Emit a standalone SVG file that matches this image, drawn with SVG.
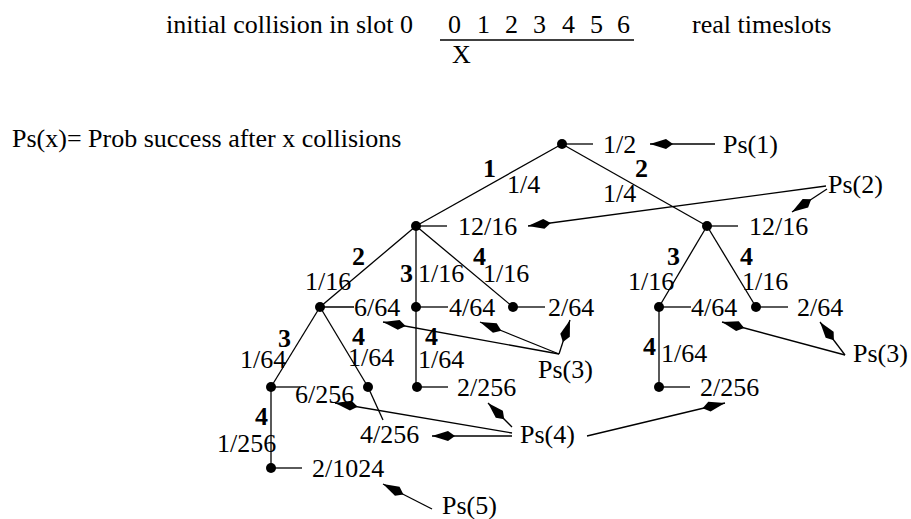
<svg xmlns="http://www.w3.org/2000/svg" width="911" height="519" viewBox="0 0 911 519">
<style>
text{font-family:'Liberation Serif','DejaVu Serif','Noto Serif',serif;font-size:26px;fill:#000}
.b{font-weight:bold}
line{stroke:#000;stroke-width:1.3;fill:none}
.a{marker-end:url(#ah)}
circle{fill:#000}
</style>
<defs>
<marker id="ah" markerUnits="userSpaceOnUse" viewBox="-24 -6 25 12" markerWidth="25" markerHeight="12" refX="0" refY="0" orient="auto">
<path d="M0,0 L-16,-5 L-23,0 L-16,5 Z" fill="#000"/>
</marker>
</defs>
<rect width="911" height="519" fill="#fff"/>
<g font-family="Liberation Serif, DejaVu Serif, serif" font-size="26">
<g id="header">
<text x="166" y="33">initial collision in slot 0</text>
<text x="448" y="33">0</text><text x="477" y="33">1</text><text x="505" y="33">2</text><text x="533" y="33">3</text><text x="562" y="33">4</text><text x="590" y="33">5</text><text x="617" y="33">6</text>
<line x1="440" y1="40" x2="634" y2="40"/>
<text x="452" y="63">X</text>
<text x="692" y="33">real timeslots</text>
<text x="12" y="147">Ps(x)= Prob success after x collisions</text>
</g>
<g id="connectors">
<line x1="562" y1="144" x2="416" y2="226"/>
<line x1="562" y1="144" x2="707" y2="226"/>
<line x1="416" y1="226" x2="320" y2="307"/>
<line x1="416" y1="226" x2="416" y2="387"/>
<line x1="416" y1="226" x2="513" y2="307"/>
<line x1="707" y1="226" x2="659" y2="307"/>
<line x1="707" y1="226" x2="756" y2="307"/>
<line x1="659" y1="307" x2="659" y2="387"/>
<line x1="320" y1="307" x2="271" y2="387"/>
<line x1="320" y1="307" x2="368" y2="387"/>
<line x1="271" y1="387" x2="271" y2="468"/>
<line class="a" x1="715" y1="144" x2="650" y2="144"/>
<line class="a" x1="826" y1="186" x2="528" y2="226"/>
<line class="a" x1="827" y1="189" x2="792" y2="212"/>
<line class="a" x1="559" y1="354" x2="383" y2="322"/>
<line class="a" x1="559" y1="354" x2="480" y2="322"/>
<line class="a" x1="559" y1="354" x2="570" y2="320"/>
<line class="a" x1="845" y1="355" x2="722" y2="322"/>
<line class="a" x1="845" y1="355" x2="820" y2="322"/>
<line class="a" x1="512" y1="427" x2="488" y2="403"/>
<line class="a" x1="512" y1="436" x2="432" y2="436"/>
<line class="a" x1="512" y1="433" x2="335" y2="403"/>
<line class="a" x1="587" y1="436" x2="725" y2="403"/>
<line class="a" x1="432" y1="509" x2="383" y2="484"/>
</g>
<g id="n0"><circle cx="562" cy="144" r="5"/><line x1="562" y1="144" x2="593" y2="144"/><text x="603" y="153">1/2</text></g>
<g id="n1"><circle cx="416" cy="226" r="5"/><line x1="416" y1="226" x2="447" y2="226"/><text x="458" y="235">12/16</text></g>
<g id="n2"><circle cx="707" cy="226" r="5"/><line x1="707" y1="226" x2="738" y2="226"/><text x="749" y="235">12/16</text></g>
<g id="n11"><circle cx="320" cy="307" r="5"/><line x1="320" y1="307" x2="354" y2="307"/><text x="354" y="316">6/64</text></g>
<g id="n12"><circle cx="416" cy="307" r="5"/><line x1="416" y1="307" x2="448" y2="307"/><text x="449" y="316">4/64</text></g>
<g id="n13"><circle cx="513" cy="307" r="5"/><line x1="513" y1="307" x2="545" y2="307"/><text x="548" y="316">2/64</text></g>
<g id="n21"><circle cx="659" cy="307" r="5"/><line x1="659" y1="307" x2="691" y2="307"/><text x="691" y="316">4/64</text></g>
<g id="n22"><circle cx="756" cy="307" r="5"/><line x1="756" y1="307" x2="788" y2="307"/><text x="797" y="316">2/64</text></g>
<g id="n111"><circle cx="271" cy="387" r="5"/><line x1="271" y1="387" x2="300" y2="387"/><text x="295" y="403">6/256</text></g>
<g id="n112"><circle cx="368" cy="387" r="5"/><line x1="368" y1="387" x2="383" y2="420"/><text x="360" y="443">4/256</text></g>
<g id="n121"><circle cx="417" cy="387" r="5"/><line x1="417" y1="387" x2="448" y2="387"/><text x="457" y="396">2/256</text></g>
<g id="n211"><circle cx="659" cy="387" r="5"/><line x1="659" y1="387" x2="690" y2="387"/><text x="700" y="396">2/256</text></g>
<g id="n1111"><circle cx="271" cy="468" r="5"/><line x1="271" y1="468" x2="302" y2="468"/><text x="312" y="477">2/1024</text></g>
<g id="edge-labels">
<text class="b" x="483" y="177">1</text><text x="507" y="193">1/4</text>
<text class="b" x="635" y="177">2</text><text x="603" y="202">1/4</text>
<text class="b" x="352" y="265">2</text><text x="305" y="290">1/16</text>
<text class="b" x="400" y="282">3</text><text x="418" y="282">1/16</text>
<text class="b" x="473" y="265">4</text><text x="483" y="282">1/16</text>
<text class="b" x="667" y="265">3</text><text x="628" y="290">1/16</text>
<text class="b" x="740" y="265">4</text><text x="742" y="290">1/16</text>
<text class="b" x="278" y="347">3</text><text x="240" y="368">1/64</text>
<text class="b" x="352" y="345">4</text><text x="348" y="366">1/64</text>
<text class="b" x="425" y="345">4</text><text x="418" y="368">1/64</text>
<text class="b" x="643" y="355">4</text><text x="661" y="362">1/64</text>
<text class="b" x="255" y="425">4</text><text x="217" y="452">1/256</text>
</g>
<g id="ps-labels">
<text x="723" y="153">Ps(1)</text>
<text x="828" y="193">Ps(2)</text>
<text x="538" y="378">Ps(3)</text>
<text x="853" y="362">Ps(3)</text>
<text x="520" y="443">Ps(4)</text>
<text x="442" y="514">Ps(5)</text>
</g>
</g>
</svg>
